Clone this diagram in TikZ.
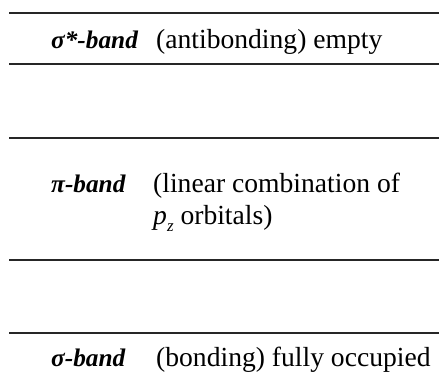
\documentclass[tikz,border=0pt]{standalone}
\usepackage{fontspec}
\setmainfont{Liberation Serif}
\begin{document}
\begin{tikzpicture}[x=1pt,y=-1pt,
  level/.style={line width=1.3pt, black!85},
  lab/.style={anchor=base west, inner sep=0pt, font=\fontsize{27.6}{32}\selectfont},
  bandname/.style={lab, font=\fontsize{25.3}{30}\selectfont\bfseries\itshape}]
\useasboundingbox (0,0) rectangle (439,379);
% band edges
\draw[level] (9,13) -- (439,13);
\draw[level] (9,64) -- (439,64);
\draw[level] (9,138) -- (439,138);
\draw[level] (9,260) -- (439,260);
\draw[level] (9,333) -- (439,333);
% sigma* band
\node[bandname] (sstar) at (51,49) {σ*-band};
\node[lab] (sstardesc) at (156,49) {(antibonding) empty};
% pi band
\node[bandname] (pi) at (51,193) {π-band};
\node[lab] (pidesc1) at (153,193) {(linear combination of};
\node[lab] (pidesc2) at (153,225) {\textit{p}\raisebox{-0.25em}{\fontsize{17}{17}\selectfont\textit{z}}\ orbitals)};
% sigma band
\node[bandname] (sigma) at (51,366) {σ-band};
\node[lab] (sigmadesc) at (156,366) {(bonding) fully occupied};
\end{tikzpicture}
\end{document}
